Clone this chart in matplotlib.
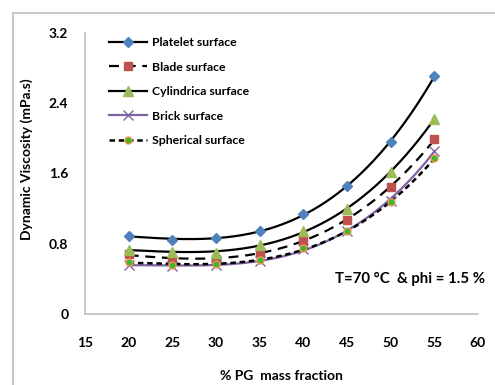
import numpy as np
import matplotlib
matplotlib.use("Agg")
import matplotlib.pyplot as plt
from matplotlib.lines import Line2D

plt.rcParams['font.family'] = ['Lato', 'DejaVu Sans']
plt.rcParams['font.weight'] = 'bold'

pg_fraction = [20, 25, 30, 35, 40, 45, 50, 55]
platelet = [0.89, 0.845, 0.86, 0.95, 1.135, 1.455, 1.96, 2.71]
blade = [0.68, 0.62, 0.63, 0.71, 0.84, 1.07, 1.445, 1.99]
cylindrica = [0.73, 0.71, 0.70, 0.79, 0.94, 1.20, 1.615, 2.225]
brick = [0.56, 0.545, 0.555, 0.60, 0.745, 0.95, 1.29, 1.86]
spherical = [0.59, 0.556, 0.575, 0.617, 0.746, 0.94, 1.27, 1.775]

labels = ["Platelet surface", "Blade surface", "Cylindrica surface",
          "Brick surface", "Spherical surface"]
xticks = [15, 20, 25, 30, 35, 40, 45, 50, 55, 60]
yticks = [0, 0.8, 1.6, 2.4, 3.2]

fig = plt.figure(figsize=(4.95, 3.85), dpi=100)
ax = fig.add_axes([85/495, 1-314/385, 393/495, 281/385])

series = [platelet, blade, cylindrica, brick, spherical]
line_styles = [
    dict(color='black', ls='-', lw=1.6),
    dict(color='black', ls=(0, (4.5, 3)), lw=1.6),
    dict(color='black', ls='-', lw=1.6),
    dict(color='#8064A2', ls='-', lw=1.6),
    dict(color='black', ls=(0, (2.2, 1.5)), lw=1.8),
]
marker_styles = [
    dict(marker='D', ms=5.5, mfc='#4F81BD', mec='#4F81BD'),
    dict(marker='s', ms=6, mfc='#C0504D', mec='#C0504D'),
    dict(marker='^', ms=7, mfc='#9BBB59', mec='#9BBB59'),
    dict(marker='x', ms=7, mfc='#8064A2', mec='#8064A2', mew=1.0),
    dict(marker='o', ms=5, mfc='#33BB33', mec='#F79646', mew=1.0),
]

xs = np.array(pg_fraction, dtype=float)
xfine = np.linspace(xs.min(), xs.max(), 200)
handles = []
for vals, lsd, msd, lab in zip(series, line_styles, marker_styles, labels):
    coef = np.polyfit(xs, vals, 3)
    ax.plot(xfine, np.polyval(coef, xfine), zorder=2, **lsd)
for vals, lsd, msd, lab in zip(series, line_styles, marker_styles, labels):
    ax.plot(xs, vals, ls='none', zorder=3, **msd)
    handles.append(Line2D([], [], **lsd, **msd))

ax.set_xlim(15, 60)
ax.set_ylim(0, 3.2)
ax.set_xticks(xticks)
ax.set_yticks(yticks)
ax.set_xticklabels([str(t) for t in xticks])
ax.set_yticklabels(['0', '0.8', '1.6', '2.4', '3.2'])
ax.tick_params(length=0, labelsize=10)
ax.tick_params(axis='x', pad=16.5)
ax.tick_params(axis='y', pad=12)
for s in ['top', 'right']:
    ax.spines[s].set_visible(False)
for s in ['left', 'bottom']:
    ax.spines[s].set_color('#BFBFBF')
    ax.spines[s].set_linewidth(1.2)

ax.set_xlabel('% PG  mass fraction', fontsize=10, fontweight='bold', va='center')
ax.xaxis.set_label_coords(0.5, -0.222)
ax.set_ylabel('Dynamic Viscosity (mPa.s)', fontsize=10, fontweight='bold', va='center')
ax.yaxis.set_label_coords(-0.148, 0.55)

ax.text(0.636, 0.125, 'T=70 °C  & phi = 1.5 %', transform=ax.transAxes,
        fontsize=10.8, fontweight='bold', ha='left', va='center')

leg = ax.legend(handles, labels, loc='upper left', bbox_to_anchor=(0.061, 0.985),
                frameon=False, fontsize=8.8, handlelength=3.1, handletextpad=0.4,
                labelspacing=1.1, borderpad=0, borderaxespad=0, numpoints=1)

fig.add_artist(Line2D([13/495, 13/495], [0, 1-13/385], color='#C8C8C8', lw=1.5))
fig.add_artist(Line2D([13/495, 1], [1-13/385, 1-13/385], color='#C8C8C8', lw=1.5))

fig.savefig('out.png', dpi=100)
